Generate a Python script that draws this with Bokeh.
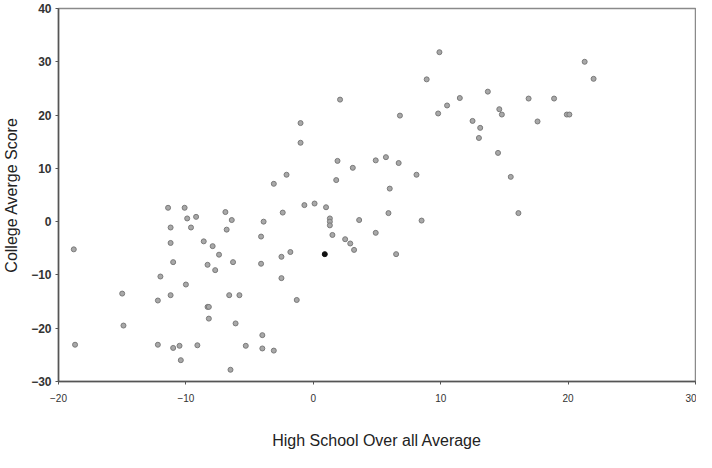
from bokeh.plotting import figure
from bokeh.models import Range1d, FixedTicker
from bokeh.embed import file_html
from bokeh.resources import INLINE

# High school overall average (x) vs college average score (y)
hs_avg = [-18.8, -18.7, -15.0, -14.9, -11.4, -10.1, -9.9, -9.2, -11.2, -9.6,
          -11.2, -11.0, -12.0, -12.2, -11.2, -10.0, -12.2, -11.0, -10.5, -10.4,
          -9.1, -8.6, -7.9, -7.4, -8.3, -7.7, -8.3, -8.2, -8.2, -6.9,
          -6.4, -6.8, -6.3, -6.6, -5.8, -6.1, -6.5, -5.3, -4.0, -4.0,
          -3.1, -3.9, -4.1, -4.1, -3.1, -2.4, -2.5, -1.8, -2.5, -1.3,
          -2.1, -1.0, -1.0, -0.7, 0.1, 1.0, 1.3, 1.3, 1.3, 1.5,
          2.5, 2.9, 3.2, 3.6, 4.9, 6.0, 5.9, 6.5, 8.5, 1.8,
          1.9, 3.1, 4.9, 5.7, 6.7, 8.1, 2.1, 6.8, 8.9, 9.9,
          10.5, 9.8, 11.5, 13.7, 12.5, 13.1, 13.0, 14.6, 14.8, 14.5,
          15.5, 16.1, 16.9, 17.6, 18.9, 19.9, 20.1, 21.3, 22.0]
college_avg = [-5.2, -23.1, -13.5, -19.5, 2.6, 2.6, 0.6, 0.9, -1.1, -1.1,
               -4.0, -7.6, -10.3, -14.8, -13.8, -11.8, -23.1, -23.7, -23.3, -26.0,
               -23.2, -3.7, -4.6, -6.2, -8.1, -9.1, -16.0, -16.0, -18.2, 1.8,
               0.3, -1.5, -7.6, -13.8, -13.8, -19.1, -27.8, -23.3, -21.3, -23.8,
               -24.2, 0.0, -2.8, -7.9, 7.1, 1.7, -6.6, -5.7, -10.6, -14.7,
               8.8, 18.5, 14.8, 3.1, 3.4, 2.7, 0.6, 0.0, -0.7, -2.5,
               -3.3, -4.1, -5.3, 0.3, -2.1, 6.2, 1.6, -6.1, 0.2, 7.8,
               11.4, 10.1, 11.5, 12.1, 11.0, 8.8, 22.9, 19.9, 26.7, 31.8,
               21.8, 20.3, 23.2, 24.4, 18.9, 17.6, 15.7, 21.1, 20.1, 12.9,
               8.4, 1.6, 23.1, 18.8, 23.1, 20.1, 20.1, 30.0, 26.8]

# the single darker (overplotted) point
dark_x = [0.9]
dark_y = [-6.1]

x_ticks = [-20, -10, 0, 10, 20, 30]
y_ticks = [-30, -20, -10, 0, 10, 20, 30, 40]

p = figure(width=696, height=452, output_backend="svg", toolbar_location=None,
           x_range=Range1d(-20, 30), y_range=Range1d(-30, 40),
           min_border_left=55, min_border_right=1, min_border_top=8,
           min_border_bottom=71)

p.background_fill_color = "white"
p.border_fill_color = "white"
p.outline_line_color = "#8a8a8a"
p.outline_line_width = 1.5
p.grid.visible = False

p.scatter(hs_avg, college_avg, size=5, marker="circle",
          fill_color="#a8a8a8", line_color="#7a7a7a", line_width=1)
p.scatter(dark_x, dark_y, size=5, marker="circle",
          fill_color="#111111", line_color="#111111")

for ax in (p.xaxis[0], p.yaxis[0]):
    ax.axis_line_color = "#555555"
    ax.axis_line_width = 1.5
    ax.major_tick_line_color = "#555555"
    ax.major_tick_out = 3
    ax.major_tick_in = 0
    ax.minor_tick_line_color = None
    ax.major_label_text_font = "Liberation Sans"
    ax.major_label_text_color = "#333333"
    ax.axis_label_text_font = "Liberation Sans"
    ax.axis_label_text_font_style = "normal"
    ax.axis_label_text_color = "#222222"

p.xaxis.ticker = FixedTicker(ticks=x_ticks)
p.yaxis.ticker = FixedTicker(ticks=y_ticks)
p.xaxis.major_label_text_font_size = "10px"
p.yaxis.major_label_text_font_size = "12px"
p.yaxis.major_label_text_font_style = "bold"
p.xaxis.major_label_standoff = 9
p.yaxis.major_label_standoff = 4

p.xaxis.axis_label = "High School Over all Average"
p.yaxis.axis_label = "College Averge Score"
p.xaxis.axis_label_text_font_size = "16px"
p.yaxis.axis_label_text_font_size = "16px"
p.xaxis.axis_label_standoff = 27
p.yaxis.axis_label_standoff = 8

open("out.html", "w").write(file_html(p, INLINE))
